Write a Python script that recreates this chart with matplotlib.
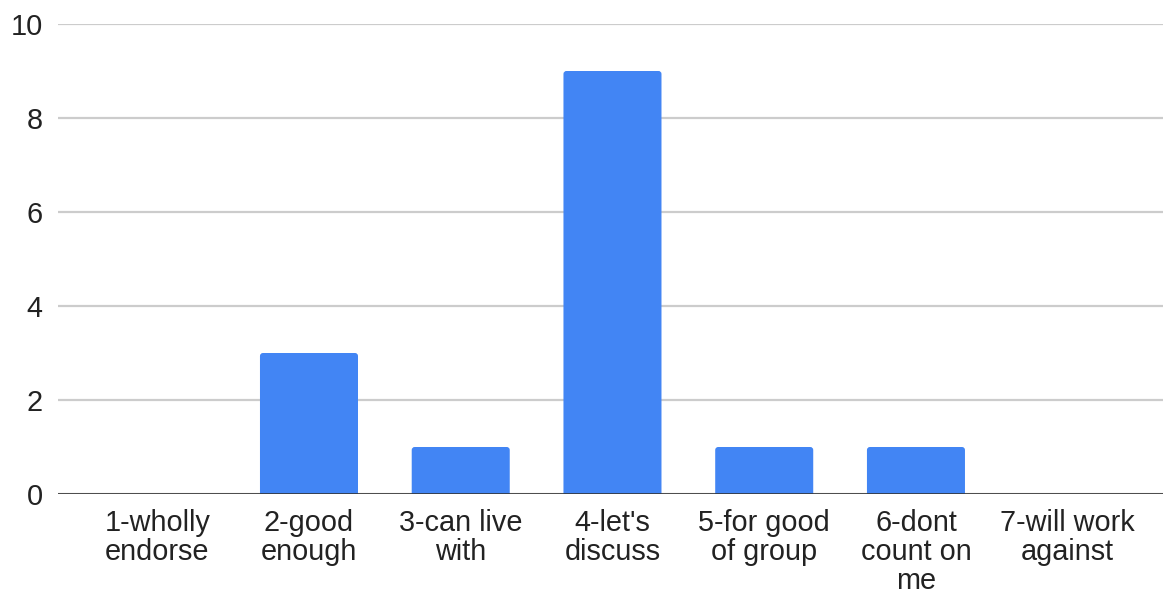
import matplotlib
matplotlib.use("Agg")
import matplotlib.pyplot as plt
from matplotlib.patches import FancyBboxPatch

categories = [
    "1-wholly\nendorse",
    "2-good\nenough",
    "3-can live\nwith",
    "4-let's\ndiscuss",
    "5-for good\nof group",
    "6-dont\ncount on\nme",
    "7-will work\nagainst",
]
counts = [0, 3, 1, 9, 1, 1, 0]
y_ticks = [0, 2, 4, 6, 8, 10]

BAR_COLOR = "#4285F4"
GRID_COLOR = "#cccccc"
TEXT_COLOR = "#222222"

plt.rcParams["font.family"] = ["Liberation Sans", "DejaVu Sans"]

W, H = 1163, 590
fig = plt.figure(figsize=(W / 100, H / 100), dpi=100)
ax = fig.add_axes([58 / W, 96 / H, 1 - 58 / W, (494 - 24) / H])

x = list(range(len(categories)))
width = 0.646
bars = ax.bar(x, counts, width=width, color=BAR_COLOR, zorder=3)

ax.set_ylim(0, 10)
ax.set_xlim(-0.654, 6.628)

# Replace each bar with one whose top corners are slightly rounded;
# the bottom extends below zero and is clipped by the axes.
x_px = 151.75
y_px = 47.0
r = 3.0 / x_px
for b in bars:
    h = b.get_height()
    if h <= 0:
        b.set_visible(False)
        continue
    ext = 0.2
    patch = FancyBboxPatch(
        (b.get_x(), -ext), b.get_width(), h + ext,
        boxstyle=f"round,pad=0,rounding_size={r}",
        mutation_aspect=x_px / y_px,
        facecolor=BAR_COLOR, edgecolor="none", zorder=3,
    )
    ax.add_patch(patch)
    b.set_visible(False)

ax.set_yticks(y_ticks)
ax.set_yticklabels([str(t) for t in y_ticks])
ax.set_xticks(x)
ax.set_xticklabels(categories, linespacing=1.03)

ax.grid(axis="y", color=GRID_COLOR, linewidth=1.6, zorder=0)
ax.axhline(0, color="#333333", linewidth=1.9, zorder=4)
for side in ["top", "right", "left", "bottom"]:
    ax.spines[side].set_visible(False)

ax.tick_params(axis="both", length=0, labelsize=20.8, colors=TEXT_COLOR)
ax.tick_params(axis="y", pad=11)
ax.tick_params(axis="x", pad=11)

fig.savefig("out.png", dpi=100, facecolor="white")
